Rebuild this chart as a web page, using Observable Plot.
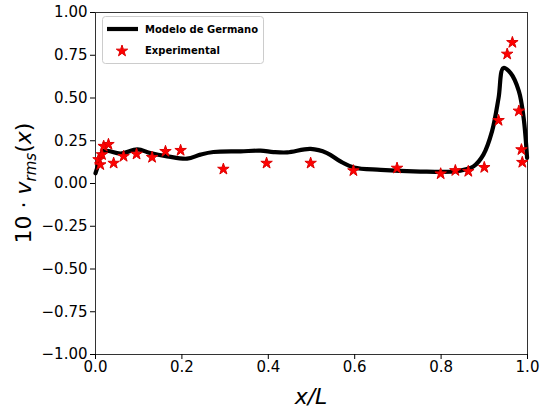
<!DOCTYPE html>
<html>
<head>
<meta charset="utf-8">
<script src="https://cdn.jsdelivr.net/npm/d3@7"></script>
<script src="https://cdn.jsdelivr.net/npm/@observablehq/plot@0.6"></script>
<style>
  html, body { margin: 0; padding: 0; background: #fff; }
  svg { font-family: "DejaVu Sans", sans-serif; }
</style>
</head>
<body>
<div id="chart"></div>
<script>
// Model curve (Modelo de Germano)
const modelX = [0, 0.005, 0.012, 0.02, 0.03, 0.058, 0.097, 0.127, 0.166, 0.212, 0.243, 0.273, 0.336, 0.382, 0.412, 0.444, 0.498, 0.536, 0.567, 0.598, 0.66, 0.752, 0.829, 0.86, 0.875, 0.898, 0.918, 0.933, 0.944, 0.961, 0.98, 0.991, 0.999];
const modelY = [0.06, 0.10, 0.17, 0.19, 0.19, 0.175, 0.20, 0.178, 0.159, 0.145, 0.169, 0.184, 0.188, 0.192, 0.184, 0.182, 0.202, 0.178, 0.129, 0.094, 0.08, 0.07, 0.07, 0.085, 0.10, 0.169, 0.306, 0.50, 0.675, 0.645, 0.54, 0.384, 0.15];
// Experimental points
const expX = [0.007, 0.011, 0.015, 0.019, 0.030, 0.042, 0.065, 0.095, 0.131, 0.162, 0.197, 0.296, 0.396, 0.498, 0.597, 0.698, 0.799, 0.833, 0.863, 0.900, 0.933, 0.953, 0.965, 0.980, 0.986, 0.988];
const expY = [0.14, 0.11, 0.169, 0.218, 0.229, 0.119, 0.159, 0.172, 0.153, 0.188, 0.194, 0.084, 0.119, 0.119, 0.075, 0.09, 0.057, 0.076, 0.071, 0.094, 0.369, 0.757, 0.825, 0.424, 0.198, 0.124];
const xTicks = [0, 0.2, 0.4, 0.6, 0.8, 1.0];
const yTicks = [-1, -0.75, -0.5, -0.25, 0, 0.25, 0.5, 0.75, 1];
const legendLabels = ["Modelo de Germano", "Experimental"];

const model = modelX.map((x, i) => ({x, y: modelY[i]}));
const exp = expX.map((x, i) => ({x, y: expY[i]}));

const W = 543, H = 412;
const mL = 95, mR = 16, mT = 12, mB = 58;

const plot = Plot.plot({
  width: W, height: H,
  marginLeft: mL, marginRight: mR, marginTop: mT, marginBottom: mB,
  style: {fontSize: "15px", fontFamily: "DejaVu Sans, sans-serif", color: "#000", background: "#fff"},
  x: {domain: [0, 1], label: null},
  y: {domain: [-1, 1], label: null},
  marks: [
    Plot.frame({stroke: "#333", strokeWidth: 1}),
    Plot.axisX({ticks: xTicks, tickFormat: d3.format(".1f"), tickSize: 5, tickPadding: 2, fontSize: 15, label: null}),
    Plot.axisY({ticks: yTicks, tickFormat: d3.format(".2f"), tickSize: 5, tickPadding: 3, fontSize: 15, label: null}),
    Plot.line(model, {x: "x", y: "y", stroke: "#000", strokeWidth: 4.2, curve: "catmull-rom"}),
    Plot.dot(exp, {x: "x", y: "y", symbol: "star", r: 3.6, fill: "#f00", stroke: "#d00", strokeWidth: 1})
  ]
});

document.getElementById("chart").appendChild(plot);
const svg = d3.select(plot);

// Axis labels
svg.append("text")
  .attr("x", mL + (W - mL - mR) / 2).attr("y", 404)
  .attr("text-anchor", "middle")
  .attr("font-size", 22).attr("font-style", "italic")
  .attr("font-family", "DejaVu Sans, sans-serif")
  .text("x/L");

const yl = svg.append("text")
  .attr("transform", `translate(31,${mT + (H - mT - mB) / 2}) rotate(-90)`)
  .attr("text-anchor", "middle")
  .attr("font-size", 22)
  .attr("font-family", "DejaVu Sans, sans-serif");
yl.append("tspan").text("10 · ");
yl.append("tspan").attr("font-style", "italic").text("v");
yl.append("tspan").attr("font-style", "italic").attr("font-size", 15).attr("dy", 5).text("rms");
yl.append("tspan").attr("dy", -5).text("(");
yl.append("tspan").attr("font-style", "italic").text("x");
yl.append("tspan").text(")");

// Legend
const lg = svg.append("g").attr("text-anchor", "start");
lg.append("rect").attr("x", 102.5).attr("y", 16.5).attr("width", 161).attr("height", 47)
  .attr("rx", 3).attr("fill", "#fff").attr("fill-opacity", 0.8).attr("stroke", "#ccc");
lg.append("line").attr("x1", 107).attr("x2", 138).attr("y1", 29).attr("y2", 29)
  .attr("stroke", "#000").attr("stroke-width", 4.2);
lg.append("path").attr("d", d3.symbol(d3.symbolStar, 40)())
  .attr("transform", "translate(122,51)").attr("fill", "#f00").attr("stroke", "#d00");
lg.selectAll("text.l").data(legendLabels).join("text")
  .attr("x", 145).attr("y", (d, i) => 29 + i * 21).attr("dy", "0.35em")
  .attr("text-anchor", "start")
  .attr("font-size", 10).attr("font-weight", "bold")
  .attr("font-family", "DejaVu Sans, sans-serif")
  .text(d => d);
</script>
</body>
</html>
